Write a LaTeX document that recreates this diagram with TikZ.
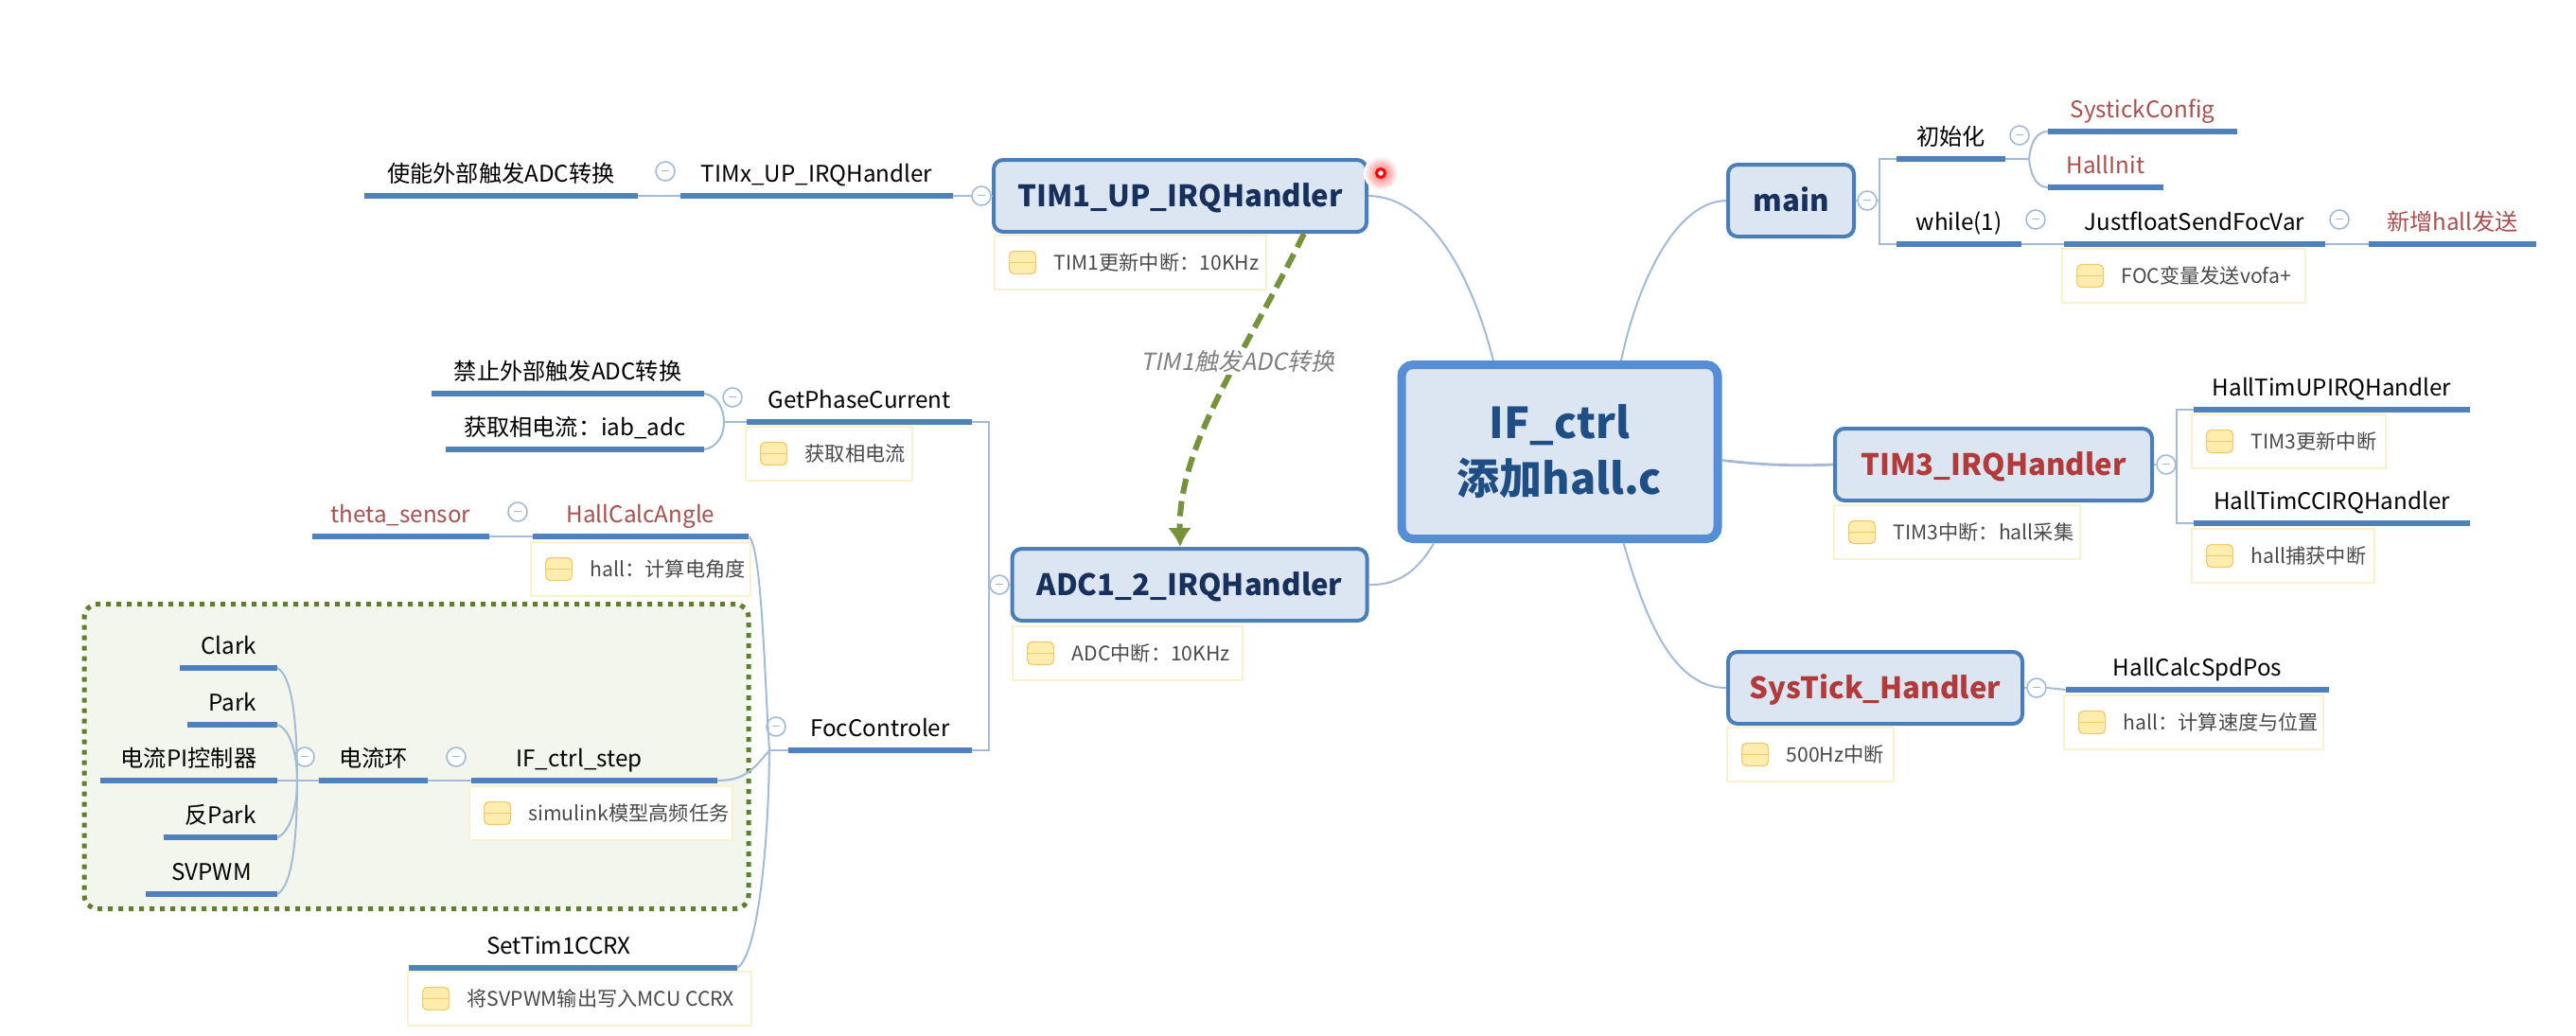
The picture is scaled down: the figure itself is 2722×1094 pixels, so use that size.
\documentclass[tikz,border=0pt]{standalone}
\usepackage{fontspec}
\setmainfont[AutoFakeSlant=0.2]{Noto Sans CJK SC}
\usetikzlibrary{arrows.meta,positioning}
\definecolor{boxfill}{HTML}{DCE6F2}
\definecolor{boxline}{HTML}{4A7EBB}
\definecolor{rootline}{HTML}{558ED5}
\definecolor{linkline}{HTML}{A3BBD6}
\definecolor{ruleline}{HTML}{4F81BD}
\definecolor{navytext}{HTML}{17305C}
\definecolor{roottext}{HTML}{1F4E85}
\definecolor{halltext}{HTML}{B23A3A}
\definecolor{topictext}{HTML}{A85050}
\definecolor{notetext}{HTML}{4A4A4A}
\definecolor{noteline}{HTML}{FBF1CC}
\definecolor{iconfill}{HTML}{FFEDAE}
\definecolor{iconline}{HTML}{F2C96B}
\definecolor{framefill}{HTML}{F3F6EC}
\definecolor{frameline}{HTML}{5F7F2A}
\definecolor{arrowline}{HTML}{76923C}
\tikzset{
	root/.style={draw=rootline,fill=boxfill,line width=4.5pt,rounded corners=6pt,minimum width=167pt,minimum height=92pt,align=center,text=roottext,font=\fontsize{22.5}{29.5}\selectfont\bfseries},
	handler/.style={draw=boxline,fill=boxfill,line width=2pt,rounded corners=5pt,minimum width=#1,minimum height=38pt,inner sep=0pt,text height=11.5pt,text depth=0pt,text=navytext,font=\fontsize{15.6}{20}\selectfont\bfseries},
	hallhandler/.style={handler=#1,text=halltext},
	topic/.style={anchor=south west,minimum width=#1,inner xsep=0pt,inner ysep=4.5pt,outer sep=0pt,text height=9pt,text depth=3pt,text=black,font=\fontsize{12.1}{15}\selectfont,append after command={(\tikzlastnode.south west) edge[rule] (\tikzlastnode.south east)}},
	halltopic/.style={topic=#1,text=topictext},
	rule/.style={draw=ruleline,line width=3pt},
	link/.style={draw=linkline,line width=1pt},
	thicklink/.style={draw=linkline,line width=1.4pt},
	fold/.style={circle,draw=linkline,fill=white,line width=.8pt,minimum size=10pt,inner sep=0pt,font=\fontsize{4}{4}\selectfont,text=linkline},
	notebox/.style={anchor=north west,draw=noteline,fill=white,line width=1pt,minimum width=#1,minimum height=28.5pt,inner sep=0pt},
	noteicon/.style={draw=iconline,fill=iconfill,line width=.6pt,rounded corners=2.5pt,minimum width=14pt,minimum height=12pt,inner sep=0pt,path picture={\draw[iconline,line width=.8pt] (path picture bounding box.west) -- (path picture bounding box.east);}},
	notelabel/.style={inner sep=0pt,text=notetext,font=\fontsize{10.6}{13}\selectfont},
	focframe/.style={draw=frameline,fill=framefill,line width=2.5pt,dash pattern=on 2.5pt off 3pt,rounded corners=7pt,minimum width=351pt,minimum height=161pt},
	trigger/.style={draw=arrowline,line width=3pt,dash pattern=on 8pt off 4pt,-{Latex[length=10pt,width=12.5pt]}},
	triggerlabel/.style={fill=white,inner sep=1pt,text=gray,font=\fontsize{12.5}{15}\selectfont\itshape}
}
\newcommand{\foldmark}{\rule[.6pt]{4pt}{.7pt}}
\begin{document}
\begin{tikzpicture}[x=.5pt,y=-.5pt]
	\path[use as bounding box,fill=white] (0,0) rectangle (2722,1094);
	\node[focframe] (frame) at (440,799.5) {};
	\node[root] (ifctrl) at (1648,477.5) {IF\_ctrl\\添加hall.c};

	\node[handler=197pt] (tim1) at (1247,207) {TIM1\_UP\_IRQHandler};
	\node[handler=187.5pt] (adc) at (1257,618) {ADC1\_2\_IRQHandler};
	\node[handler=66.5pt] (main) at (1892.5,212) {main};
	\node[hallhandler=167.5pt] (tim3) at (2106.5,491) {TIM3\_IRQHandler};
	\node[hallhandler=155.5pt] (systick) at (1981.5,727) {SysTick\_Handler};

	\shade[inner color=red!60,outer color=white] (1459,183) circle (18);
	\draw[red,line width=1.5pt,fill=white] (1459,183) circle (4.5);

	\node[topic=144.5pt] (enable) at (385,207) {使能外部触发ADC转换};
	\node[topic=144pt] (timx) at (719,207) {TIMx\_UP\_IRQHandler};
	\node[fold] (timxfold) at (703,181) {\foldmark};
	\node[fold] (tim1fold) at (1037,207) {\foldmark};
	\node[fold] (adcfold) at (1056,618) {\foldmark};

	\node[topic=144pt] (forbid) at (456,416) {禁止外部触发ADC转换};
	\node[topic=136.5pt] (iab) at (471,475) {获取相电流：iab\_adc};
	\node[topic=119pt] (getphase) at (789,446) {GetPhaseCurrent};
	\node[fold] (getfold) at (774,420) {\foldmark};
	\node[halltopic=93.5pt] (theta) at (330,567) {theta\_sensor};
	\node[halltopic=114pt] (hallangle) at (563,567) {HallCalcAngle};
	\node[fold] (anglefold) at (547,541) {\foldmark};

	\node[topic=51.5pt] (clark) at (190,706) {Clark};
	\node[topic=47.5pt] (park) at (198,766) {Park};
	\node[topic=93.5pt] (pi) at (106,825) {电流PI控制器};
	\node[topic=60pt] (rpark) at (173,885) {反Park};
	\node[topic=69.5pt] (svpwm) at (154,945) {SVPWM};
	\node[topic=57.5pt] (loop) at (337,825) {电流环};
	\node[fold] (loopfold) at (322,800) {\foldmark};
	\node[topic=130pt] (step) at (498,825) {IF\_ctrl\_step\hspace*{16pt}};
	\node[fold] (stepfold) at (482,800) {\foldmark};
	\node[topic=97pt] (foc) at (833,793) {FocControler};
	\node[fold] (focfold) at (820,768) {\foldmark};
	\node[topic=173.5pt] (settim) at (432,1023) {SetTim1CCRX\hspace*{15pt}};

	\node[topic=57.5pt] (init) at (2004,168) {初始化};
	\node[fold] (initfold) at (2134,143) {\foldmark};
	\node[halltopic=100pt] (systickcfg) at (2164,139) {SystickConfig};
	\node[halltopic=61pt] (hallinit) at (2164,198) {HallInit};
	\node[topic=66pt] (while) at (2004,258) {while(1)};
	\node[fold] (whilefold) at (2151,232) {\foldmark};
	\node[topic=138pt] (sendvar) at (2181,258) {JustfloatSendFocVar};
	\node[fold] (sendfold) at (2472,232) {\foldmark};
	\node[halltopic=88.5pt] (newhall) at (2503,258) {新增hall发送};
	\node[fold] (mainfold) at (1973,212) {\foldmark};

	\node[topic=146pt] (timup) at (2318,433) {HallTimUPIRQHandler};
	\node[topic=146pt] (timcc) at (2318,553) {HallTimCCIRQHandler};
	\node[fold] (tim3fold) at (2289,491) {\foldmark};
	\node[topic=139pt] (spdpos) at (2183,729) {HallCalcSpdPos};
	\node[fold] (sysfold) at (2152,727) {\foldmark};

	\node[notebox=143.5pt] (tim1note) at (1050,248) {};
	\node[noteicon,right=8pt of tim1note.west] (tim1icon) {};
	\node[notelabel,right=9pt of tim1icon] (tim1text) {TIM1更新中断：10KHz};
	\node[notebox=121.5pt] (adcnote) at (1069,661) {};
	\node[noteicon,right=8pt of adcnote.west] (adcicon) {};
	\node[notelabel,right=9pt of adcicon] (adctext) {ADC中断：10KHz};
	\node[notebox=88pt] (getnote) at (787,450) {};
	\node[noteicon,right=8pt of getnote.west] (geticon) {};
	\node[notelabel,right=9pt of geticon] (gettext) {获取相电流};
	\node[notebox=116pt] (anglenote) at (560,572) {};
	\node[noteicon,right=8pt of anglenote.west] (angleicon) {};
	\node[notelabel,right=9pt of angleicon] (angletext) {hall：计算电角度};
	\node[notebox=139pt] (stepnote) at (495,830) {};
	\node[noteicon,right=8pt of stepnote.west] (stepicon) {};
	\node[notelabel,right=9pt of stepicon] (steptext) {simulink模型高频任务};
	\node[notebox=181.5pt] (setnote) at (430,1026) {};
	\node[noteicon,right=8pt of setnote.west] (seticon) {};
	\node[notelabel,right=9pt of seticon] (settext) {将SVPWM输出写入MCU CCRX};
	\node[notebox=128.5pt] (sendnote) at (2178,262) {};
	\node[noteicon,right=8pt of sendnote.west] (sendicon) {};
	\node[notelabel,right=9pt of sendicon] (sendtext) {FOC变量发送vofa+};
	\node[notebox=130pt] (tim3note) at (1937,533) {};
	\node[noteicon,right=8pt of tim3note.west] (tim3icon) {};
	\node[notelabel,right=9pt of tim3icon] (tim3text) {TIM3中断：hall采集};
	\node[notebox=102.5pt] (upnote) at (2315,437) {};
	\node[noteicon,right=8pt of upnote.west] (upicon) {};
	\node[notelabel,right=9pt of upicon] (uptext) {TIM3更新中断};
	\node[notebox=96.5pt] (ccnote) at (2315,558) {};
	\node[noteicon,right=8pt of ccnote.west] (ccicon) {};
	\node[notelabel,right=9pt of ccicon] (cctext) {hall捕获中断};
	\node[notebox=137pt] (spdnote) at (2180,734) {};
	\node[noteicon,right=8pt of spdnote.west] (spdicon) {};
	\node[notelabel,right=9pt of spdicon] (spdtext) {hall：计算速度与位置};
	\node[notebox=88pt] (sysnote) at (1824,768) {};
	\node[noteicon,right=8pt of sysnote.west] (sysicon) {};
	\node[notelabel,right=9pt of sysicon] (systext) {500Hz中断};

	\draw[link] (tim1.east) .. controls (1510,208) and (1555,290) .. (ifctrl.126);
	\draw[link] (adc.east) .. controls (1480,619) and (1500,600) .. (ifctrl.216);
	\draw[link] (ifctrl.56) .. controls (1730,300) and (1770,213) .. (main.west);
	\draw[thicklink] (ifctrl.-3) .. controls (1860,491) and (1890,493) .. (tim3.west);
	\draw[link] (ifctrl.-55) .. controls (1740,660) and (1770,727) .. (systick.west);

	\draw[link] (enable.south east) -- (timx.south west);
	\draw[link] (timx.south east) -- (tim1fold.west);
	\draw[link] (tim1fold.east) -- (tim1.west);

	\coordinate (adcjoin) at (1045,618);
	\draw[link] (adc.west) -- (adcfold.east);
	\draw[link] (adcfold.west) -- (adcjoin);
	\draw[link] (getphase.south east) -| (adcjoin);
	\draw[link] (foc.south east) -| (adcjoin);

	\coordinate (getjoin) at (765,446);
	\draw[link] (getphase.south west) -- (getjoin);
	\draw[link] (forbid.south east) .. controls (758,418) and (765,432) .. (getjoin);
	\draw[link] (iab.south east) .. controls (758,473) and (765,460) .. (getjoin);
	\draw[link] (theta.south east) -- (hallangle.south west);

	\coordinate (focjoin) at (813,793);
	\draw[link] (foc.south west) -- (focjoin);
	\draw[link] (hallangle.south east) .. controls (805,575) and (808,720) .. (focjoin);
	\draw[link] (step.south east) .. controls (785,825) and (795,815) .. (focjoin);
	\draw[link] (settim.south east) .. controls (800,1010) and (812,900) .. (focjoin);
	\draw[link] (loop.south east) -- (step.south west);

	\coordinate (loopjoin) at (314,825);
	\draw[link] (pi.south east) -- (loop.south west);
	\draw[link] (clark.south east) .. controls (310,715) and (314,770) .. (loopjoin);
	\draw[link] (park.south east) .. controls (306,770) and (314,795) .. (loopjoin);
	\draw[link] (rpark.south east) .. controls (306,880) and (314,855) .. (loopjoin);
	\draw[link] (svpwm.south east) .. controls (310,936) and (314,880) .. (loopjoin);

	\coordinate (mainjoin) at (1986,212);
	\draw[link] (main.east) -- (mainfold.west);
	\draw[link] (mainfold.east) -- (mainjoin);
	\draw[link] (init.south west) -| (mainjoin);
	\draw[link] (while.south west) -| (mainjoin);
	\coordinate (initjoin) at (2144,168);
	\draw[link] (init.south east) -- (initjoin);
	\draw[link] (initjoin) .. controls (2146,150) and (2152,139) .. (systickcfg.south west);
	\draw[link] (initjoin) .. controls (2146,186) and (2152,198) .. (hallinit.south west);
	\draw[link] (while.south east) -- (sendvar.south west);
	\draw[link] (sendvar.south east) -- (newhall.south west);

	\coordinate (tim3join) at (2300,491);
	\draw[link] (tim3.east) -- (tim3fold.west);
	\draw[link] (tim3fold.east) -- (tim3join);
	\draw[link] (timup.south west) -| (tim3join);
	\draw[link] (timcc.south west) -| (tim3join);
	\draw[link] (systick.east) -- (sysfold.west);
	\draw[link] (sysfold.east) -- (spdpos.south west);

	\draw[trigger] (tim1.-17) .. controls (1315,375) and (1245,470) .. (adc.104);
	\node[triggerlabel] (triggertext) at (1308,382) {TIM1触发ADC转换};
\end{tikzpicture}
\end{document}
